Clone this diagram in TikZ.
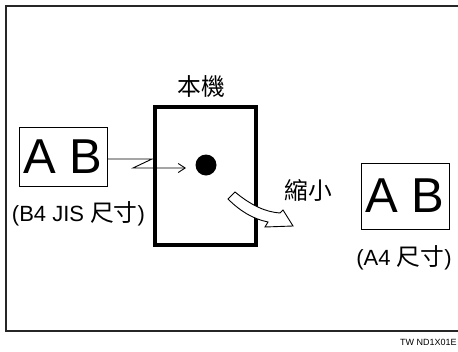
\documentclass[tikz,border=0pt]{standalone}
\usepackage{fontspec}
\setmainfont{Liberation Sans}
\newfontfamily\cjk[Scale=1.08]{Noto Sans CJK TC}
\usetikzlibrary{arrows.meta}
\tikzset{
  frameline/.style={line width=1.2pt, draw=black!85},
  paperbox/.style={draw, line width=0.9pt, inner sep=0pt, font=\fontsize{49}{49}\selectfont},
  machine/.style={draw, line width=4.5pt, inner sep=0pt, minimum width=101pt, minimum height=138pt},
  lbl/.style={inner sep=0pt, font=\fontsize{22}{22}\selectfont},
  feedarrow/.style={line width=0.9pt, -{Straight Barb[length=7pt,width=9pt,line width=0.9pt]}},
  reduce/.style={fill=white, draw=black, line width=0.9pt, line join=miter}
}
\begin{document}
\begin{tikzpicture}[x=1pt,y=-1pt]
\useasboundingbox (0,0) rectangle (458,351);
% outer frame
\draw[frameline] (458,6) -- (6,6) -- (6,331) -- (458,331);
% machine
\node[machine] (mach) at (205.5,176) {};
\node[lbl, anchor=south] (machlbl) at (201,98) {\cjk 本機};
\node[circle, fill=black, inner sep=0pt, minimum size=21pt] (dot) at (206,165) {};
% left original
\node[paperbox, minimum width=88pt, minimum height=59pt] (lbox) at (63,156.5) {A B};
\node[lbl] (llbl) at (78.5,214) {(B4 JIS {\cjk 尺寸})};
% feed arrow
\coordinate (f0) at ([yshift=-2.5pt]lbox.east);
\coordinate (f1) at (152,159);
\coordinate (f2) at (133,168);
\coordinate (f3) at (186,168);
\draw[feedarrow] (f0) -- (f1) -- (f2) -- (f3);
% reduced copy
\node[paperbox, minimum width=88pt, minimum height=66pt] (rbox) at (405,196) {A B};
\node[lbl] (rlbl) at (404,258) {(A4 {\cjk 尺寸})};
\node[lbl] (redlbl) at (308.5,190) {\cjk 縮小};
% curved reduce arrow
\draw[reduce] (228,199) -- (235,192)
  .. controls (252,206) and (266,212) .. (280,213)
  -- (283,210) -- (293,226) -- (265,227) -- (268,222)
  .. controls (253,219) and (240,211) .. cycle;
% code
\node[anchor=west, inner sep=0pt, font=\fontsize{9}{9}\selectfont] (code) at (400,342) {TW ND1X01E};
\end{tikzpicture}
\end{document}
